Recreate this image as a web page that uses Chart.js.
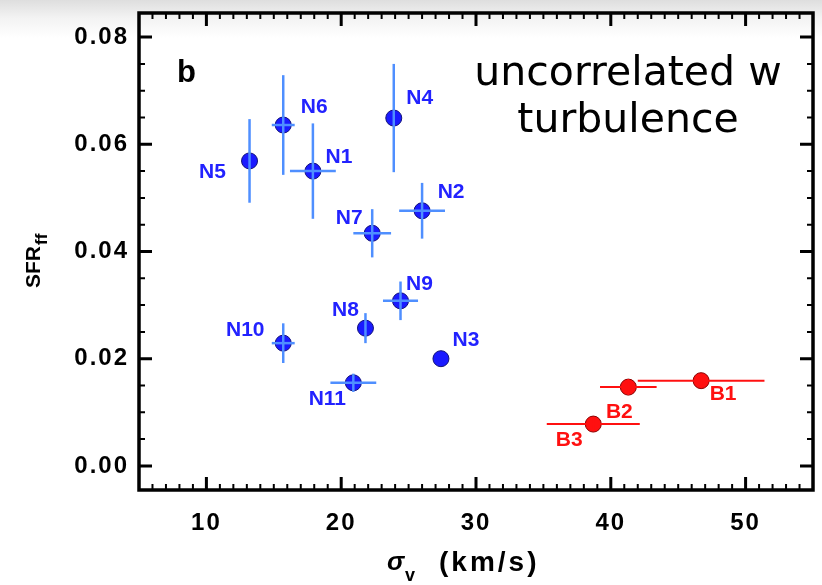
<!DOCTYPE html>
<html>
<head>
<meta charset="utf-8">
<title>SFR_ff vs velocity dispersion</title>
<script src="https://cdn.jsdelivr.net/npm/chart.js@4.4.1/dist/chart.umd.min.js"></script>
<style>
  body { margin: 0; background: linear-gradient(to bottom, #dedede 0px, #f3f3f3 18px, #ffffff 38px); }
  #wrap { width: 822px; height: 585px; }
</style>
</head>
<body>
<div id="wrap"><canvas id="chart" width="822" height="585"></canvas></div>
<script>
  // blue sample (N regions)
  const nNames = ["N1", "N2", "N3", "N4", "N5", "N6", "N7", "N8", "N9", "N10", "N11"];
  const nSigma = [17.9, 26.0, 27.4, 23.9, 13.2, 15.7, 22.3, 21.8, 24.4, 15.7, 20.9];
  const nSigmaErr = [1.7, 1.7, 0, 0, 0, 0.85, 1.4, 0, 1.3, 0.85, 1.7];
  const nSfr = [0.0550, 0.0476, 0.0200, 0.0649, 0.0569, 0.0636, 0.0434, 0.0257, 0.0308, 0.0229, 0.0155];
  const nSfrErr = [0.0089, 0.0052, 0, 0.0101, 0.0078, 0.0093, 0.0045, 0.0028, 0.0036, 0.0037, 0.0017];

  // red sample (B regions)
  const bNames = ["B1", "B2", "B3"];
  const bSigma = [46.7, 41.3, 38.7];
  const bSigmaErr = [4.7, 2.1, 3.45];
  const bSfr = [0.0159, 0.0147, 0.0078];
  const bSfrErr = [0.001, 0.0015, 0.001];

  const xTicks = [10, 20, 30, 40, 50];
  const yTicks = [0.00, 0.02, 0.04, 0.06, 0.08];

  // label offsets from the marker, in pixels
  const nLabelOffset = [[26, -14], [29, -19], [25, -18], [26, -20], [-37, 11], [31, -18],
                        [-23, -15], [-20, -18], [19, -17], [-38, -13], [-26, 16]];
  const bLabelOffset = [[22, 14], [-9, 25], [-24, 16]];

  const BLUE = "#1a1aff";
  const BLUE_BAR = "#4f8fff";
  const RED = "#ff1010";
  const FONT = "'Liberation Sans', Arial, sans-serif";

  function errorBars(xs, ys, xe, ye, color, width) {
    const sets = [];
    xs.forEach((x, i) => {
      if (xe[i] > 0) {
        sets.push({ data: [{ x: x - xe[i], y: ys[i] }, { x: x + xe[i], y: ys[i] }],
          showLine: true, borderColor: color, borderWidth: width, pointRadius: 0, order: 0 });
      }
      if (ye[i] > 0) {
        sets.push({ data: [{ x: x, y: ys[i] - ye[i] }, { x: x, y: ys[i] + ye[i] }],
          showLine: true, borderColor: color, borderWidth: width, pointRadius: 0, order: 0 });
      }
    });
    return sets;
  }

  const datasets = [
    ...errorBars(nSigma, nSfr, nSigmaErr, nSfrErr, BLUE_BAR, 2.5),
    ...errorBars(bSigma, bSfr, bSigmaErr, bSfrErr, RED, 2),
    { data: nSigma.map((x, i) => ({ x: x, y: nSfr[i] })), pointRadius: 8,
      pointBackgroundColor: BLUE, pointBorderColor: "#12127a", pointBorderWidth: 1, order: 1 },
    { data: bSigma.map((x, i) => ({ x: x, y: bSfr[i] })), pointRadius: 8,
      pointBackgroundColor: RED, pointBorderColor: "#8a0000", pointBorderWidth: 1, order: 1 }
  ];

  // the tick labels of the original are a wide font, so space them out a little
  const spacingPlugin = {
    id: "spacing",
    beforeDraw(chart) { chart.ctx.letterSpacing = "2px"; },
    afterDraw(chart) { chart.ctx.letterSpacing = "0px"; }
  };

  // frame, inward ticks on all four sides, axis titles and annotations
  const framePlugin = {
    id: "frame",
    afterDatasetsDraw(chart) {
      const ctx = chart.ctx;
      const a = chart.chartArea;
      const xs = chart.scales.x, ys = chart.scales.y;
      ctx.save();
      ctx.letterSpacing = "0px";
      ctx.strokeStyle = "#000";
      ctx.lineCap = "butt";

      for (let v = 5; v <= 55; v++) {
        const px = xs.getPixelForValue(v);
        const major = v % 10 === 0;
        const len = major ? 13 : 6;
        ctx.lineWidth = major ? 3 : 2;
        ctx.beginPath();
        ctx.moveTo(px, a.bottom); ctx.lineTo(px, a.bottom - len);
        ctx.moveTo(px, a.top); ctx.lineTo(px, a.top + len);
        ctx.stroke();
      }
      for (let k = 0; k <= 16; k++) {
        const v = k * 0.005;
        const py = ys.getPixelForValue(v);
        const major = k % 4 === 0;
        const len = major ? 13 : 6;
        ctx.lineWidth = major ? 3 : 2;
        ctx.beginPath();
        ctx.moveTo(a.left, py); ctx.lineTo(a.left + len, py);
        ctx.moveTo(a.right, py); ctx.lineTo(a.right - len, py);
        ctx.stroke();
      }
      ctx.lineWidth = 3.5;
      ctx.strokeRect(a.left, a.top, a.right - a.left, a.bottom - a.top);

      // point labels
      ctx.font = "bold 21px " + FONT;
      ctx.textAlign = "center";
      ctx.textBaseline = "middle";
      ctx.fillStyle = "#2222ff";
      nNames.forEach((n, i) => {
        ctx.fillText(n, xs.getPixelForValue(nSigma[i]) + nLabelOffset[i][0],
                        ys.getPixelForValue(nSfr[i]) + nLabelOffset[i][1]);
      });
      ctx.fillStyle = RED;
      bNames.forEach((n, i) => {
        ctx.fillText(n, xs.getPixelForValue(bSigma[i]) + bLabelOffset[i][0],
                        ys.getPixelForValue(bSfr[i]) + bLabelOffset[i][1]);
      });

      // panel letter
      ctx.fillStyle = "#000";
      ctx.textAlign = "left";
      ctx.textBaseline = "alphabetic";
      ctx.font = "bold 31px " + FONT;
      ctx.fillText("b", a.left + 38, 82);

      // annotation
      ctx.textAlign = "center";
      ctx.textBaseline = "middle";
      ctx.font = "41px 'DejaVu Sans', Verdana, sans-serif";
      ctx.fillText("uncorrelated w", 628, 74);
      ctx.fillText("turbulence", 628, 121);

      // x title: sigma_v (km/s)
      ctx.textAlign = "left";
      ctx.textBaseline = "alphabetic";
      ctx.font = "italic bold 26px " + FONT;
      ctx.fillText("\u03c3", 387, 570);
      ctx.font = "bold 18px " + FONT;
      ctx.fillText("v", 405, 581);
      ctx.font = "bold 28px " + FONT;
      ctx.letterSpacing = "3px";
      ctx.fillText("(km/s)", 439, 571);
      ctx.letterSpacing = "0px";

      // y title: SFR_ff
      ctx.translate(40, 288);
      ctx.rotate(-Math.PI / 2);
      ctx.font = "bold 21px " + FONT;
      ctx.fillText("SFR", 0, 0);
      const w = ctx.measureText("SFR").width;
      ctx.font = "bold 17px " + FONT;
      ctx.fillText("ff", w + 1, 7);
      ctx.restore();
    }
  };

  new Chart(document.getElementById("chart"), {
    type: "scatter",
    data: { datasets: datasets },
    options: {
      responsive: false,
      animation: false,
      events: [],
      layout: { padding: { top: 13, right: 9, left: 0, bottom: 0 } },
      plugins: { legend: { display: false }, tooltip: { enabled: false } },
      scales: {
        x: {
          type: "linear", min: 5, max: 55,
          grid: { display: false, drawTicks: false },
          border: { display: false },
          afterBuildTicks: s => { s.ticks = xTicks.map(v => ({ value: v })); },
          afterFit: s => { s.height = 95; s.paddingLeft = 0; s.paddingRight = 0; },
          ticks: { color: "#000", padding: 19, font: { family: FONT, size: 24, weight: "bold" } }
        },
        y: {
          type: "linear", min: -0.0045, max: 0.0845,
          grid: { display: false, drawTicks: false },
          border: { display: false },
          afterBuildTicks: s => { s.ticks = yTicks.map(v => ({ value: v })); },
          afterFit: s => { s.width = 139; s.paddingTop = 0; s.paddingBottom = 0; },
          ticks: { color: "#000", padding: 10, font: { family: FONT, size: 24, weight: "bold" },
                   callback: v => v.toFixed(2) }
        }
      }
    },
    plugins: [spacingPlugin, framePlugin]
  });
</script>
</body>
</html>
